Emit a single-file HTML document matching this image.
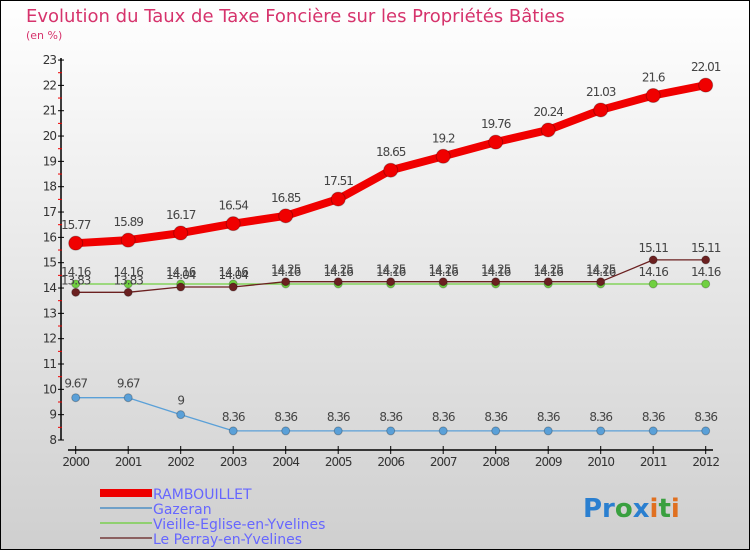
<!DOCTYPE html>
<html><head><meta charset="utf-8"><style>
body{margin:0;width:750px;height:550px;overflow:hidden}
svg{display:block;font-family:"DejaVu Sans","Liberation Sans",sans-serif}
</style></head><body>
<svg width="750" height="550">
<defs><linearGradient id="bg" x1="0" y1="0" x2="0" y2="1"><stop offset="0" stop-color="#ffffff"/><stop offset="1" stop-color="#cfcfcf"/></linearGradient></defs>
<rect x="0.5" y="0.5" width="749" height="549" fill="url(#bg)" stroke="#000"/>
<text x="26" y="22" font-size="18" fill="#d6336c">Evolution du Taux de Taxe Foncière sur les Propriétés Bâties</text>
<text x="26" y="39" font-size="11" fill="#d6336c">(en %)</text>
<g id="axes"></g><g id="series"></g>
<g>
<rect x="100" y="489" width="52" height="8" fill="#e00"/>
<text x="153" y="499" font-size="14" fill="#6666ff">RAMBOUILLET</text>
<rect x="100" y="507" width="52" height="2" fill="#6fa0c8"/>
<text x="153" y="514" font-size="14" fill="#6666ff">Gazeran</text>
<rect x="100" y="522" width="52" height="2" fill="#90d070"/>
<text x="153" y="529" font-size="14" fill="#6666ff">Vieille-Eglise-en-Yvelines</text>
<rect x="100" y="537" width="52" height="2" fill="#8b6060"/>
<text x="153" y="544" font-size="14" fill="#6666ff">Le Perray-en-Yvelines</text>
</g>
<text x="583" y="517" font-size="26" font-weight="bold"><tspan fill="#2a7fd0">Pr</tspan><tspan fill="#3aa040">o</tspan><tspan fill="#2a7fd0">x</tspan><tspan fill="#e07020">i</tspan><tspan fill="#3aa040">t</tspan><tspan fill="#e07020">i</tspan></text>
</svg>
<script>
const years=[2000,2001,2002,2003,2004,2005,2006,2007,2008,2009,2010,2011,2012];
const rambouillet=[15.77,15.89,16.17,16.54,16.85,17.51,18.65,19.2,19.76,20.24,21.03,21.6,22.01];
const gazeran=[9.67,9.67,9,8.36,8.36,8.36,8.36,8.36,8.36,8.36,8.36,8.36,8.36];
const vieille=[14.16,14.16,14.16,14.16,14.16,14.16,14.16,14.16,14.16,14.16,14.16,14.16,14.16];
const perray=[13.83,13.83,14.04,14.04,14.25,14.25,14.25,14.25,14.25,14.25,14.25,15.11,15.11];
const yTicks=[8,9,10,11,12,13,14,15,16,17,18,19,20,21,22,23];
const NS="http://www.w3.org/2000/svg";
const x=i=>75.7+i*52.5, y=v=>440-(v-8)*25.33;
function mk(t,a,p){const e=document.createElementNS(NS,t);for(const k in a)e.setAttribute(k,a[k]);p.appendChild(e);return e;}
const ax=document.getElementById('axes'), sr=document.getElementById('series');
let l=mk('line',{x1:61,y1:58,x2:61,y2:440,stroke:'#000','stroke-width':1.5},ax);


l=mk('line',{x1:68,y1:450,x2:713,y2:450,stroke:'#000','stroke-width':1.5},ax);


yTicks.forEach((v,i)=>{
 mk('line',{x1:58,y1:y(v),x2:64,y2:y(v),stroke:'#000'},ax);
 if(i<yTicks.length-1)mk('line',{x1:58,y1:y(v+0.5),x2:62,y2:y(v+0.5),stroke:'#e00'},ax);
 const t=mk('text',{x:56,y:y(v)+4,'font-size':12,'text-anchor':'end',fill:'#333','letter-spacing':'-1'},ax);
 t.textContent=v;
 
 
});
years.forEach((yr,i)=>{
 mk('line',{x1:x(i),y1:446,x2:x(i),y2:454,stroke:'#000'},ax);
 const t=mk('text',{x:x(i),y:466,'font-size':12,'text-anchor':'middle',fill:'#333','letter-spacing':'-1'},ax);
 t.textContent=yr;
 
 
});
function series(vals,col,w,r,name,dy){
 const g=mk('g',{},sr);
 
 
 mk('polyline',{points:vals.map((v,i)=>x(i)+','+y(v)).join(' '),fill:'none',stroke:col,'stroke-width':w,'stroke-linejoin':'round'},g);
 vals.forEach((v,i)=>{
  const c=mk('circle',{cx:x(i),cy:y(v),r:r,fill:col,stroke:'rgba(0,0,0,0.25)'},g);
  
  
  const t=mk('text',{x:x(i),y:y(v)-dy,'font-size':12,'text-anchor':'middle',fill:'#444','letter-spacing':'-1'},g);
  t.textContent=v;
  
  
 });
}
series(vieille,'#70d040',1.3,4,'vieille',8);
series(perray,'#6b2020',1.3,4,'perray',8);
series(gazeran,'#5aa0d8',1.3,4,'gazeran',10);
series(rambouillet,'#f00000',8,7,'rambouillet',14);
</script>
</body></html>
